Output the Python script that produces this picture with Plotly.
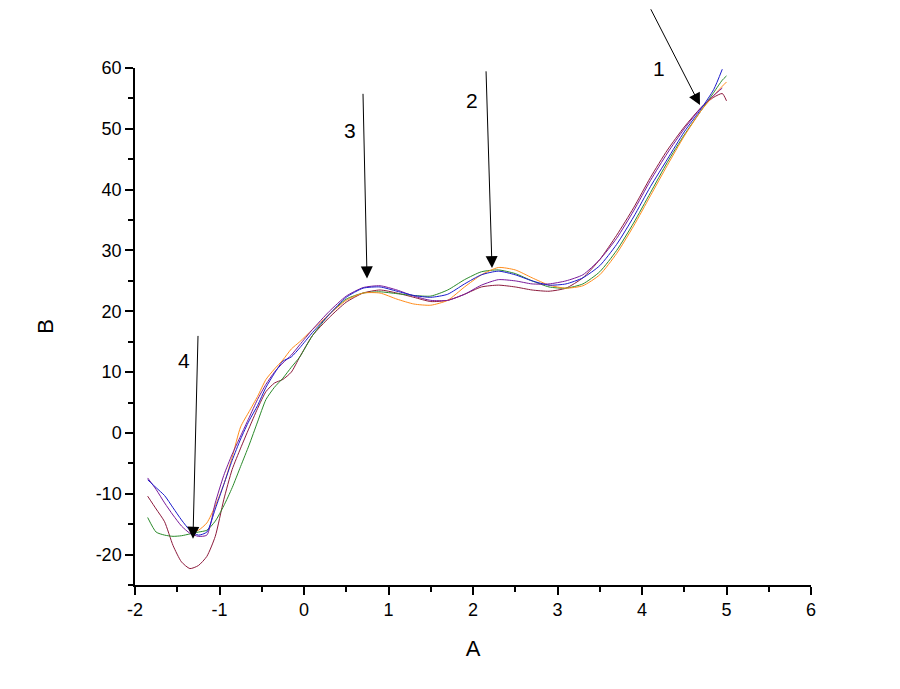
"""Five overlaid B(A) curves with numbered arrow markers."""

import plotly.graph_objects as go

# shared A grid
a_vals = [-1.85, -1.75, -1.65, -1.55, -1.45, -1.35, -1.25, -1.15, -1.05, -0.95,
          -0.85, -0.75, -0.65, -0.55, -0.45, -0.35, -0.25, -0.15, -0.05, 0.1,
          0.3, 0.5, 0.7, 0.9, 1.1, 1.3, 1.5, 1.7, 1.9, 2.1,
          2.3, 2.5, 2.7, 2.9, 3.1, 3.3, 3.5, 3.7, 3.9, 4.1,
          4.3, 4.5, 4.7, 4.85, 4.95, 5.0]

b_blue = [-7.7, -9.0, -10.3, -12.3, -14.3, -16.0, -16.8, -16.3, -12.5, -8.5,
          -4.5, -1.0, 2.0, 4.5, 7.5, 9.8, 11.8, 12.5, 14.0, 16.5,
          19.5, 22.3, 23.8, 24.0, 23.3, 22.6, 22.3, 22.8, 24.5, 26.0,
          26.6, 26.0, 25.0, 24.3, 24.5, 25.5, 27.5, 31.0, 35.5, 40.5,
          45.0, 49.5, 53.3, 56.5, 59.8, None]

b_purple = [-7.4, -9.3, -11.5, -13.5, -15.3, -16.5, -17.0, -16.8, -11.5, -7.0,
            -3.5, -0.5, 2.5, 5.5, 8.0, 10.0, 11.5, 12.8, 14.5, 17.0,
            20.0, 22.5, 23.9, 24.2, 23.5, 22.5, 21.8, 21.8, 22.8, 24.3,
            25.2, 25.0, 24.5, 24.5, 25.0, 26.0, 28.5, 32.0, 36.5, 41.5,
            46.0, 50.0, 53.5, 55.5, 56.7, None]

b_green = [-13.9, -16.3, -16.8, -17.0, -16.9, -16.6, -16.3, -16.0, -14.5, -12.0,
           -9.0, -5.5, -2.0, 1.8, 5.5, 7.5, 9.0, 10.8, 12.5, 16.0,
           19.5, 22.0, 23.0, 23.2, 22.9, 22.6, 22.5, 23.5, 25.2, 26.5,
           26.8, 26.2, 25.0, 24.0, 23.8, 24.5, 26.5, 30.0, 34.5, 39.5,
           44.5, 49.0, 53.0, 56.0, 58.0, 58.7]

b_orange = [None, None, None, None, None, -16.3, -16.0, -14.8, -12.0, -8.5,
            -4.0, 1.0, 3.5, 6.0, 8.8, 10.5, 12.0, 13.8, 15.0, 17.0,
            19.5, 21.8, 23.0, 23.0, 22.0, 21.2, 21.0, 21.8, 24.0, 26.0,
            27.2, 26.8, 25.5, 24.3, 23.8, 24.2, 26.0, 29.5, 34.0, 39.0,
            44.0, 48.8, 53.0, 55.5, 57.0, 57.7]

b_wine = [-10.4, -12.5, -14.6, -18.5, -21.2, -22.3, -21.8, -20.3, -17.0, -11.0,
          -6.0, -2.5, 0.8, 4.0, 6.8, 8.2, 8.8, 10.0, 12.5, 16.0,
          19.0, 21.5, 23.0, 23.5, 23.0, 22.3, 21.6, 21.8, 22.8, 24.0,
          24.3, 24.0, 23.5, 23.3, 23.8, 25.5, 28.5, 32.5, 37.0, 42.0,
          46.5, 50.3, 53.5, 55.2, 55.8, 54.6]

# tick labels (plain hyphen minus, as in the original)
x_ticks = [-2, -1, 0, 1, 2, 3, 4, 5, 6]
x_ticktext = ["-2", "-1", "0", "1", "2", "3", "4", "5", "6"]
y_ticks = [-20, -10, 0, 10, 20, 30, 40, 50, 60]
y_ticktext = ["-20", "-10", "0", "10", "20", "30", "40", "50", "60"]

# arrow markers: label, label position, arrow tail, arrow head
marker_labels = ["1", "2", "3", "4"]
label_pos = [(4.2, 60.0), (1.99, 54.6), (0.54, 49.8), (-1.42, 11.9)]
arrow_tail = [(4.095, 69.9), (2.154, 59.7), (0.698, 56.0), (-1.254, 16.2)]
arrow_head = [(4.686, 53.9), (2.225, 27.1), (0.746, 25.4), (-1.314, -17.4)]

series = [
    (b_wine, "#8c1a3c"),
    (b_green, "#2a8a2a"),
    (b_orange, "#ff8c1a"),
    (b_purple, "#7a1a9a"),
    (b_blue, "#1a1acc"),
]

fig = go.Figure()
for vals, color in series:
    fig.add_trace(go.Scatter(
        x=a_vals, y=vals, mode="lines",
        line=dict(color=color, width=1, shape="spline", smoothing=0.6),
        connectgaps=False, showlegend=False,
    ))

for text, (lx, ly), (tx, ty), (hx, hy) in zip(marker_labels, label_pos, arrow_tail, arrow_head):
    fig.add_annotation(
        x=hx, y=hy, ax=tx, ay=ty, xref="x", yref="y", axref="x", ayref="y",
        text="", showarrow=True, arrowhead=2, arrowsize=2.4, arrowwidth=1,
        arrowcolor="black",
    )
    fig.add_annotation(
        x=lx, y=ly, xref="x", yref="y", text=text, showarrow=False,
        font=dict(size=21, color="black"),
    )

axis_common = dict(
    showline=True, linecolor="black", linewidth=1.5, mirror=False,
    showgrid=False, zeroline=False,
    ticks="outside", ticklen=8, tickwidth=1.5, tickcolor="black",
    tickfont=dict(size=18, color="black"),
)

fig.update_xaxes(
    range=[-2, 6], tickmode="array", tickvals=x_ticks, ticktext=x_ticktext,
    minor=dict(ticks="outside", ticklen=5, tickwidth=1.5, tickcolor="black",
               tick0=0, dtick=0.5),
    title=dict(text="A", font=dict(size=22, color="black"), standoff=21),
    **axis_common,
)
fig.update_yaxes(
    range=[-25, 60], tickmode="array", tickvals=y_ticks, ticktext=y_ticktext,
    minor=dict(ticks="outside", ticklen=5, tickwidth=1.5, tickcolor="black",
               tick0=0, dtick=5),
    title=dict(text="B", font=dict(size=22, color="black"), standoff=36),
    **axis_common,
)

# page has an 8px body margin, so the figure is shrunk by that much
fig.update_layout(
    width=892, height=681,
    margin=dict(l=127, r=89, t=60, b=104),
    paper_bgcolor="white", plot_bgcolor="white",
    font=dict(family="Liberation Sans, Arial, sans-serif", color="black"),
)

fig.write_html("out.html")
